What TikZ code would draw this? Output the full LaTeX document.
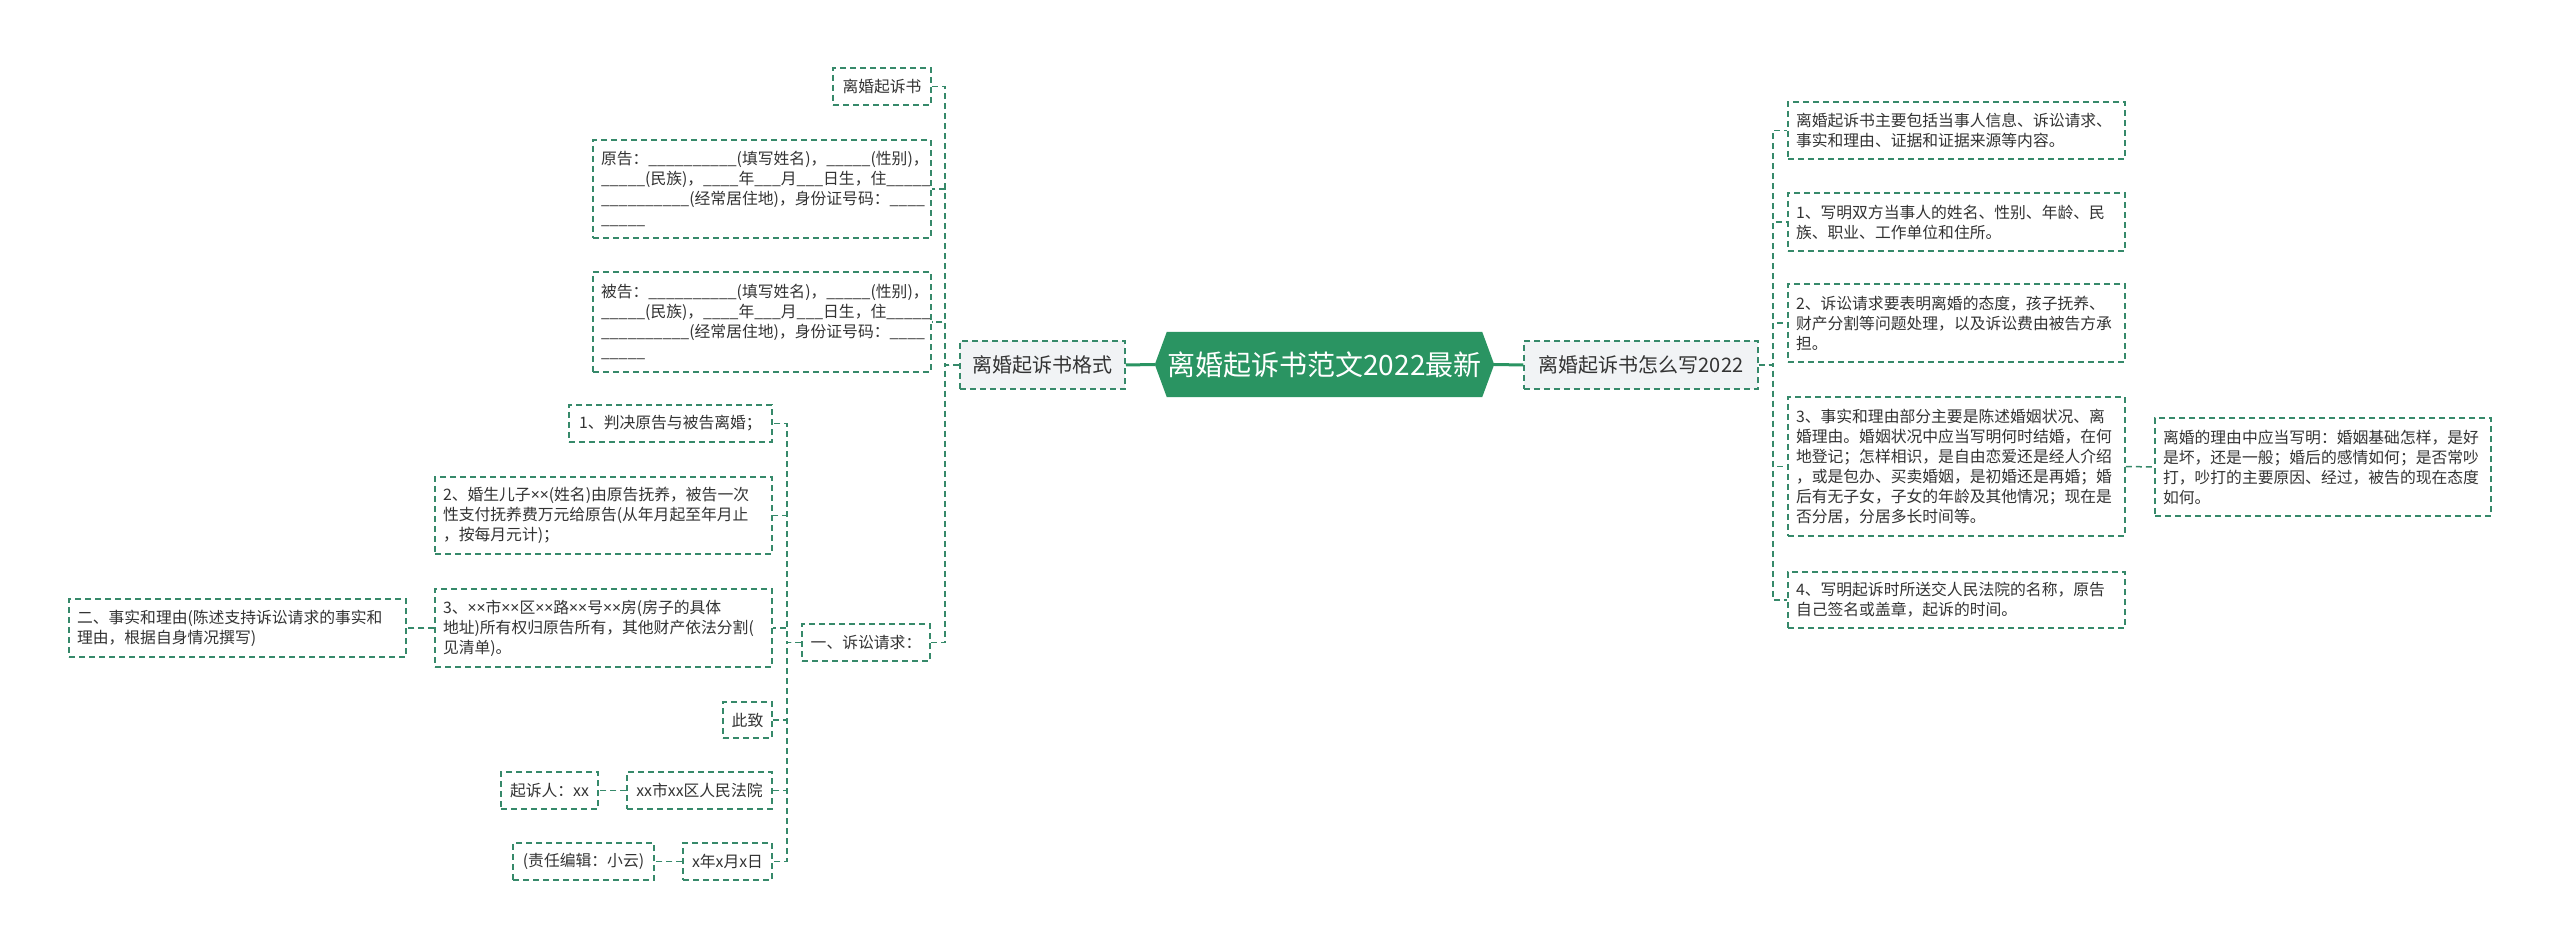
\documentclass[tikz,border=0pt]{standalone}
\usepackage{fontspec}
\newfontfamily\cjk{Noto Sans CJK SC}
\newfontfamily\lat{Noto Sans}
\newcommand{\mx}{{\lat ×}}
\usetikzlibrary{backgrounds}
\definecolor{lc}{HTML}{36896A}
\definecolor{cf}{HTML}{2A9462}
\definecolor{mf}{HTML}{F1F3F5}
\definecolor{tc}{HTML}{333333}
\tikzset{
  leaf/.style={draw=lc, dash pattern=on 6pt off 4pt, line width=1.5pt, fill=white,
    font=\cjk\fontsize{15.8}{20}\selectfont, text=tc, inner xsep=8pt, inner ysep=0pt,
    align=left, anchor=center},
  single/.style={leaf, align=center},
  mainnode/.style={leaf, fill=mf, align=center, font=\cjk\fontsize{20}{24}\selectfont},
  conn/.style={draw=lc, dash pattern=on 6pt off 4pt, line width=1.5pt},
  solidconn/.style={draw=cf, line width=3pt},
  centralnode/.style={inner sep=0pt, minimum width=339pt, minimum height=65pt,
    text=white, font=\cjk\fontsize{28}{32}\selectfont}
}
\begin{document}
\begin{tikzpicture}[x=1pt, y=-1pt]
\useasboundingbox (0,0) rectangle (2560,949);

% central
\node[centralnode] (C) at (1324.5,364.5) {离婚起诉书范文2022最新};
\begin{scope}[on background layer]
\fill[white] (0,0) rectangle (2560,949);
\fill[cf] (C.west) -- ([xshift=12pt]C.north west) -- ([xshift=-12pt]C.north east) -- (C.east)
  -- ([xshift=-12pt]C.south east) -- ([xshift=12pt]C.south west) -- cycle;
\end{scope}

% main nodes
\node[mainnode, minimum width=165pt, minimum height=48pt] (ML) at (1042.5,365) {离婚起诉书格式};
\node[mainnode, minimum width=234pt, minimum height=48pt] (MR) at (1641,365) {离婚起诉书怎么写2022};

% left children
\node[single, minimum width=98pt, minimum height=37pt] (L1) at (882,86.5) {离婚起诉书};
\node[leaf, text width=322pt, minimum height=98pt] (L2) at (762,189) {原告：\_\_\_\_\_\_\_\_\_\_(填写姓名)，\_\_\_\_\_(性别)，\\\_\_\_\_\_(民族)，\_\_\_\_年\_\_\_月\_\_\_日生，住\_\_\_\_\_\\\_\_\_\_\_\_\_\_\_\_(经常居住地)，身份证号码：\_\_\_\_\\\_\_\_\_\_};
\node[leaf, text width=322pt, minimum height=100pt] (L3) at (762,322) {被告：\_\_\_\_\_\_\_\_\_\_(填写姓名)，\_\_\_\_\_(性别)，\\\_\_\_\_\_(民族)，\_\_\_\_年\_\_\_月\_\_\_日生，住\_\_\_\_\_\\\_\_\_\_\_\_\_\_\_\_(经常居住地)，身份证号码：\_\_\_\_\\\_\_\_\_\_};
\node[single, minimum width=128pt, minimum height=37pt] (L4) at (866,642.5) {一、诉讼请求：};

% children of L4
\node[single, minimum width=203pt, minimum height=37pt] (S1) at (670.5,423.5) {1、判决原告与被告离婚；};
\node[leaf, text width=321pt, minimum height=77pt] (S2) at (603.5,515.5) {2、婚生儿子\mx\mx(姓名)由原告抚养，被告一次\\性支付抚养费万元给原告(从年月起至年月止\\，按每月元计)；};
\node[leaf, text width=321pt, minimum height=78pt] (S3) at (603.5,628) {3、\mx\mx 市\mx\mx 区\mx\mx 路\mx\mx 号\mx\mx 房(房子的具体\\地址)所有权归原告所有，其他财产依法分割(\\见清单)。};
\node[single, minimum width=49pt, minimum height=36pt, inner xsep=4pt] (S4) at (747.5,720) {此致};
\node[single, minimum width=145pt, minimum height=37pt] (S5) at (699.5,790.5) {xx市xx区人民法院};
\node[single, minimum width=89pt, minimum height=37pt] (S6) at (727.5,861.5) {x年x月x日};

\node[leaf, text width=321pt, minimum height=58pt] (T1) at (237.5,628) {二、事实和理由(陈述支持诉讼请求的事实和\\理由，根据自身情况撰写)};
\node[single, minimum width=97pt, minimum height=37pt] (T2) at (549.5,790.5) {起诉人：xx};
\node[single, minimum width=141pt, minimum height=37pt] (T3) at (583.5,861.5) {(责任编辑：小云)};

% right children
\node[leaf, text width=321pt, minimum height=57pt] (R1) at (1956.5,130.5) {离婚起诉书主要包括当事人信息、诉讼请求、\\事实和理由、证据和证据来源等内容。};
\node[leaf, text width=321pt, minimum height=58pt] (R2) at (1956.5,222) {1、写明双方当事人的姓名、性别、年龄、民\\族、职业、工作单位和住所。};
\node[leaf, text width=321pt, minimum height=78pt] (R3) at (1956.5,323) {2、诉讼请求要表明离婚的态度，孩子抚养、\\财产分割等问题处理，以及诉讼费由被告方承\\担。};
\node[leaf, text width=321pt, minimum height=139pt] (R4) at (1956.5,466.5) {3、事实和理由部分主要是陈述婚姻状况、离\\婚理由。婚姻状况中应当写明何时结婚，在何\\地登记；怎样相识，是自由恋爱还是经人介绍\\，或是包办、买卖婚姻，是初婚还是再婚；婚\\后有无子女，子女的年龄及其他情况；现在是\\否分居，分居多长时间等。};
\node[leaf, text width=321pt, minimum height=56pt] (R5) at (1956.5,600) {4、写明起诉时所送交人民法院的名称，原告\\自己签名或盖章，起诉的时间。};
\node[leaf, text width=320pt, minimum height=98pt] (E) at (2323,467) {离婚的理由中应当写明：婚姻基础怎样，是好\\是坏，还是一般；婚后的感情如何；是否常吵\\打，吵打的主要原因、经过，被告的现在态度\\如何。};

% connectors
\draw[solidconn] (C.west) -- (ML.east);
\draw[solidconn] (C.east) -- (MR.west);

\coordinate (jL) at (945,365);
\draw[conn] (ML.west) -- (jL) |- (L1.east);
\draw[conn] (ML.west) -- (jL) |- (L2.east);
\draw[conn] (ML.west) -- (jL) |- (L3.east);
\draw[conn] (ML.west) -- (jL) |- (L4.east);

\coordinate (j4) at (787,642.5);
\draw[conn] (L4.west) -- (j4) |- (S1.east);
\draw[conn] (L4.west) -- (j4) |- (S2.east);
\draw[conn] (L4.west) -- (j4) |- (S3.east);
\draw[conn] (L4.west) -- (j4) |- (S4.east);
\draw[conn] (L4.west) -- (j4) |- (S5.east);
\draw[conn] (L4.west) -- (j4) |- (S6.east);

\draw[conn] (S3.west) -- (T1.east);
\draw[conn] (S5.west) -- (T2.east);
\draw[conn] (S6.west) -- (T3.east);

\coordinate (jR) at (1773,365);
\draw[conn] (MR.east) -- (jR) |- (R1.west);
\draw[conn] (MR.east) -- (jR) |- (R2.west);
\draw[conn] (MR.east) -- (jR) |- (R3.west);
\draw[conn] (MR.east) -- (jR) |- (R4.west);
\draw[conn] (MR.east) -- (jR) |- (R5.west);
\draw[conn] (R4.east) -- (E.west);
\end{tikzpicture}
\end{document}
